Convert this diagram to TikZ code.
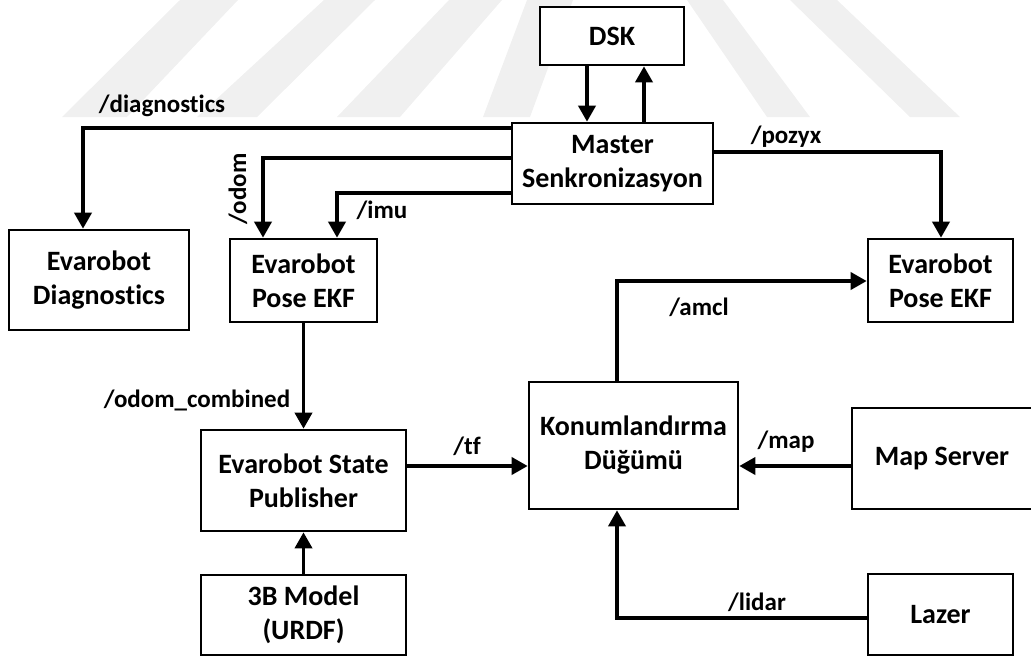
\documentclass[tikz,border=0pt]{standalone}
\usepackage{fontspec}
\setmainfont{Carlito}[Ligatures=NoCommon]
\usetikzlibrary{arrows.meta,calc}
\tikzset{
  box/.style={draw, fill=white, line width=2.6pt, rectangle, align=center, inner sep=0pt,
    font=\fontsize{28}{34}\selectfont\bfseries},
  arr/.style={line width=3.6pt, -{Triangle[width=17pt,length=16pt]}},
  lbl/.style={font=\fontsize{25}{30}\selectfont\bfseries, inner sep=0pt},
  wm/.style={fill=black!6, draw=none},
}
\begin{document}
\begin{tikzpicture}[x=1pt,y=-1pt]
\useasboundingbox (0,0) rectangle (1031,657);
% faint watermark bands
\fill[wm] (62,117) -- (127,117) -- (238,0) -- (180,0) -- cycle;
\fill[wm] (197,117) -- (257,117) -- (375,0) -- (324,0) -- cycle;
\fill[wm] (337,117) -- (400,117) -- (502,0) -- (449,0) -- cycle;
\fill[wm] (483,117) -- (530,117) -- (573,0) -- (527,0) -- cycle;
\fill[wm] (687,0) -- (723,0) -- (810,117) -- (767,117) -- cycle;
\fill[wm] (790,0) -- (837,0) -- (960,117) -- (910,117) -- cycle;
% nodes
\node[box, minimum width=144, minimum height=58] (dsk) at (612,36) {DSK};
\node[box, minimum width=201, minimum height=81] (master) at (612.5,163.5) {Master\\Senkronizasyon};
\node[box, minimum width=180, minimum height=100] (diag) at (99,280) {Evarobot\\Diagnostics};
\node[box, minimum width=147, minimum height=83] (ekfa) at (303.5,280.5) {Evarobot\\Pose EKF};
\node[box, minimum width=145, minimum height=83] (ekfb) at (940.5,280.5) {Evarobot\\Pose EKF};
\node[box, minimum width=205, minimum height=101] (sp) at (303.5,480.5) {Evarobot State\\Publisher};
\node[box, minimum width=205, minimum height=80] (model) at (303.5,615) {3B Model\\(URDF)};
\node[box, minimum width=209, minimum height=127] (konum) at (633.5,445.5) {Konumlandırma\\Düğümü};
\node[box, minimum width=180, minimum height=101] (map) at (942,458.5) {Map Server};
\node[box, minimum width=145, minimum height=81] (lazer) at (940.5,614.5) {Lazer};
% helper coordinates
\coordinate (cdiag) at (83,128);
\coordinate (codom) at (263,158);
\coordinate (cimu) at (337,193);
\coordinate (cdown) at (587,0);
\coordinate (cup) at (644,0);
\coordinate (cpoz) at (941,152);
\coordinate (ctf) at (0,466);
\coordinate (clid) at (617,618);
\coordinate (camcl) at (617,281);
% connectors
\draw[arr] (master.west |- cdiag) -| (diag.north -| cdiag);
\draw[arr] (master.west |- codom) -| (ekfa.north -| codom);
\draw[arr] (master.west |- cimu) -| (ekfa.north -| cimu);
\draw[arr] (dsk.south -| cdown) -- (master.north -| cdown);
\draw[arr] (master.north -| cup) -- (dsk.south -| cup);
\draw[arr] (master.east |- cpoz) -| (ekfb.north -| cpoz);
\draw[arr] (ekfa.south) -- (sp.north);
\draw[arr] (model.north) -- (sp.south);
\draw[arr] (sp.east |- ctf) -- (konum.west |- ctf);
\draw[arr] (map.west |- ctf) -- (konum.east |- ctf);
\draw[arr] (lazer.west |- clid) -| (konum.south -| clid);
\draw[arr] (konum.north -| camcl) |- (ekfb.west |- camcl);
% labels
\node[lbl] (ldiag) at (162,106) {/diagnostics};
\node[lbl, rotate=90] (lodom) at (238,189) {/odom};
\node[lbl] (limu) at (382,210) {/imu};
\node[lbl] (lpoz) at (786,137) {/pozyx};
\node[lbl] (lamcl) at (699,307) {/amcl};
\node[lbl] (lcomb) at (197,400) {/odom\_combined};
\node[lbl] (ltf) at (467,446) {/tf};
\node[lbl] (lmap) at (786,442) {/map};
\node[lbl] (llid) at (757,602) {/lidar};
\end{tikzpicture}
\end{document}
